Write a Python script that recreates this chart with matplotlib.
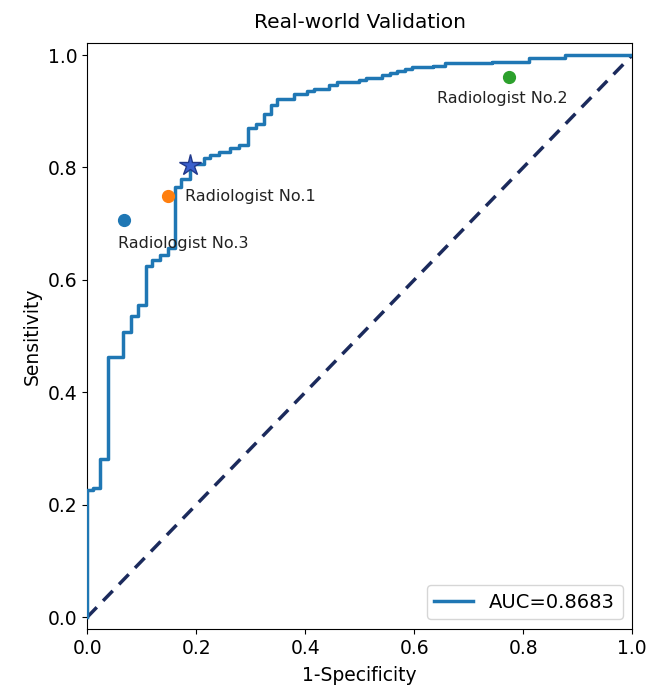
import matplotlib
matplotlib.use("Agg")
import matplotlib.pyplot as plt

# ROC curve (step vertices, where='post')
fpr = [0.000, 0.000, 0.010, 0.024, 0.038, 0.066, 0.080, 0.094, 0.108, 0.119,
       0.134, 0.148, 0.161, 0.173, 0.189, 0.214, 0.226, 0.241, 0.262, 0.278,
       0.296, 0.310, 0.324, 0.337, 0.349, 0.379, 0.404, 0.417, 0.443, 0.458,
       0.498, 0.512, 0.541, 0.555, 0.568, 0.583, 0.596, 0.635, 0.657, 0.743,
       0.810, 0.877, 1.000]
tpr = [0.000, 0.226, 0.230, 0.281, 0.463, 0.508, 0.536, 0.556, 0.625, 0.636,
       0.645, 0.656, 0.765, 0.780, 0.807, 0.816, 0.822, 0.828, 0.834, 0.840,
       0.871, 0.878, 0.895, 0.912, 0.921, 0.930, 0.936, 0.940, 0.947, 0.952,
       0.956, 0.960, 0.964, 0.968, 0.971, 0.975, 0.979, 0.981, 0.985, 0.988,
       0.995, 1.000, 1.000]
auc_label = "AUC=0.8683"

# Operating point (star)
star_point = (0.188, 0.804)

# Radiologists
rad_names = ["Radiologist No.1", "Radiologist No.2", "Radiologist No.3"]
rad_fpr = [0.148, 0.773, 0.067]
rad_tpr = [0.749, 0.961, 0.706]
rad_colors = ["#ff7f0e", "#2ca02c", "#1f77b4"]
rad_text_pos = [(0.180, 0.749), (0.641, 0.923), (0.057, 0.665)]

fig = plt.figure(figsize=(6.6, 6.86), dpi=100)
ax = fig.add_axes([0.132, 0.083, 0.826, 0.854])

ax.step(fpr, tpr, where="post", color="#1f77b4", lw=2.5, label=auc_label, zorder=3)
ax.plot([0, 1], [0, 1], color="#1b2a5c", lw=2.5, linestyle=(0, (4, 2.6)), zorder=2)

for name, x, y, c, (tx, ty) in zip(rad_names, rad_fpr, rad_tpr, rad_colors, rad_text_pos):
    ax.plot(x, y, "o", color=c, markersize=8.5, zorder=4)
    ax.text(tx, ty, name, fontsize=11.5, ha="left", va="center", color="#222222")

ax.plot(star_point[0], star_point[1], marker="*", markersize=16,
        color="#3a5fcd", markeredgecolor="#22398a", markeredgewidth=1.0, zorder=5)

ax.set_xlim(0, 1)
ax.set_ylim(-0.021, 1.021)
ax.set_xticks([0.0, 0.2, 0.4, 0.6, 0.8, 1.0])
ax.set_yticks([0.0, 0.2, 0.4, 0.6, 0.8, 1.0])
ax.tick_params(labelsize=13.5)
ax.set_xlabel("1-Specificity", fontsize=13.5, labelpad=6)
ax.set_ylabel("Sensitivity", fontsize=13.5)
ax.set_title("Real-world Validation", fontsize=14.5, pad=11)
ax.legend(loc="lower right", fontsize=14)

fig.savefig("out.png", dpi=100)
